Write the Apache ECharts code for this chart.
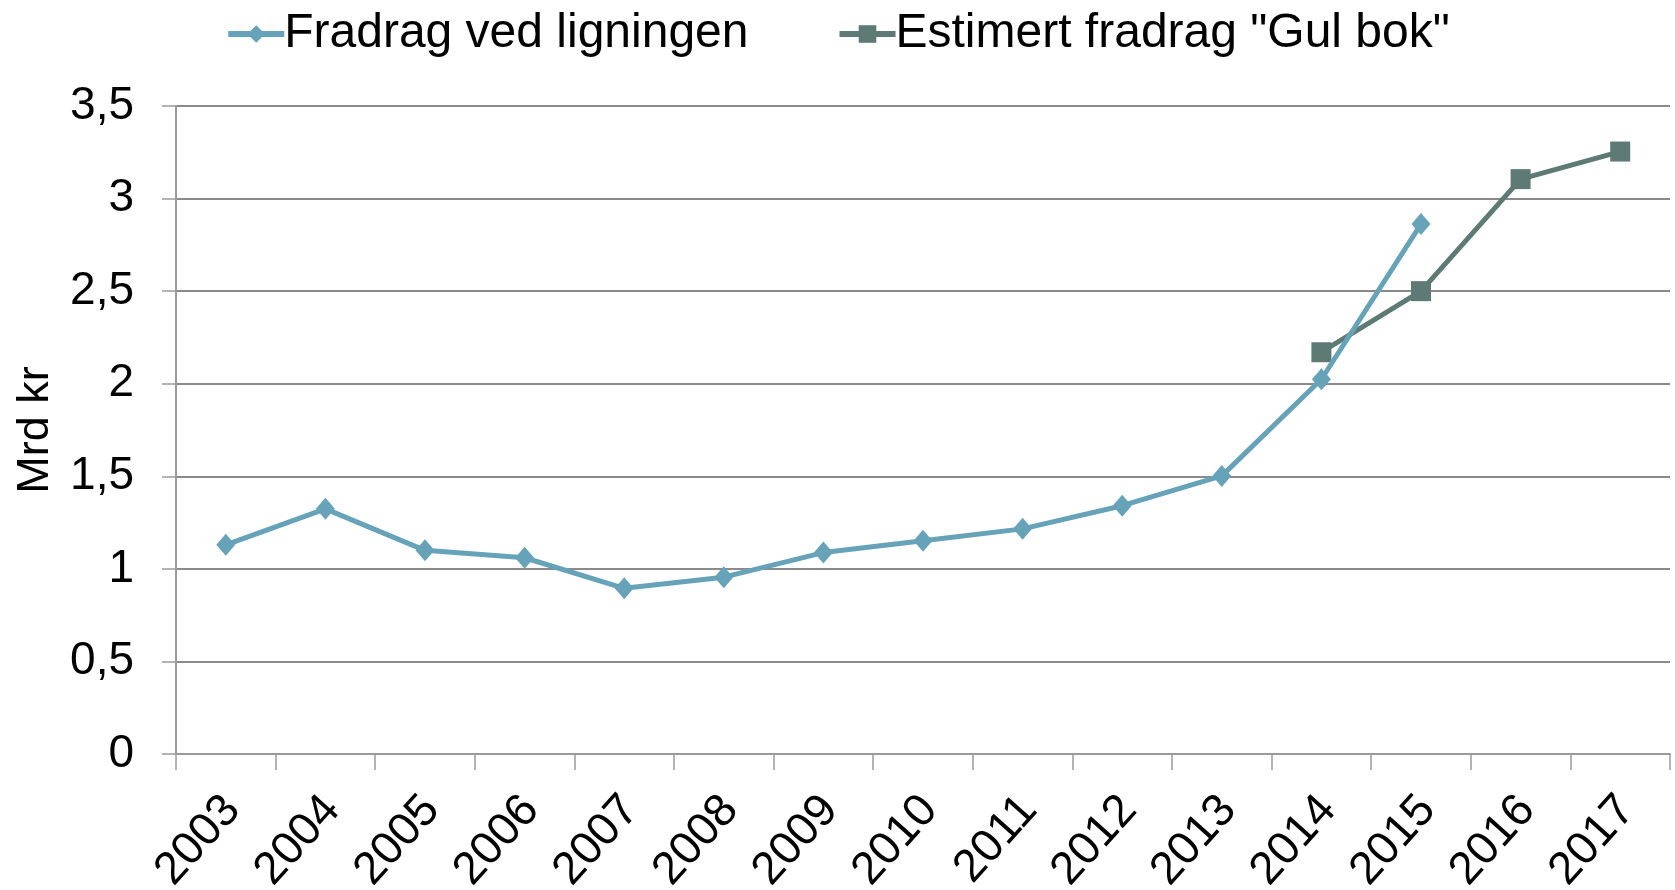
<!DOCTYPE html>
<html>
<head>
<meta charset="utf-8">
<script src="https://cdn.jsdelivr.net/npm/echarts@6/dist/echarts.min.js"></script>
<style>
html,body{margin:0;padding:0;background:#fff;}
#chart{width:1675px;height:890px;}
</style>
</head>
<body>
<div id="chart"></div>
<script>
const categories = ['2003','2004','2005','2006','2007','2008','2009','2010','2011','2012','2013','2014','2015','2016','2017'];
const fradragVedLigningen = [1.13,1.324,1.10,1.06,0.895,0.955,1.088,1.152,1.216,1.341,1.502,2.024,2.862,null,null];
const estimertFradrag = [null,null,null,null,null,null,null,null,null,null,null,2.17,2.50,3.105,3.254];
const seriesNames = ['Fradrag ved ligningen','Estimert fradrag "Gul bok"'];
const yTicks = [0,0.5,1,1.5,2,2.5,3,3.5];

const font = '"Liberation Sans", Arial, sans-serif';
const chart = echarts.init(document.getElementById('chart'), null, {renderer:'canvas'});
chart.setOption({
  animation:false,
  backgroundColor:'#ffffff',
  textStyle:{fontFamily:font,color:'#000'},
  legend:{
    top:5,
    left:'center',
    itemWidth:56,
    itemHeight:22,
    itemGap:88,
    lineStyle:{width:6},
    textStyle:{fontSize:48,color:'#000',fontFamily:font,padding:[0,0,0,-5]},
    data:seriesNames
  },
  grid:{left:176,right:5,top:106,bottom:136,containLabel:false,outerBoundsMode:'none'},
  xAxis:{
    type:'category',
    data:categories,
    boundaryGap:true,
    axisLine:{lineStyle:{color:'#9a9a9a',width:2}},
    axisTick:{show:true,length:16,lineStyle:{color:'#9a9a9a',width:1.5}},
    axisLabel:{rotate:48,margin:56,fontSize:46,color:'#000',fontFamily:font,interval:0,padding:[0,-10,0,0]}
  },
  yAxis:{
    type:'value',
    min:0,max:3.5,interval:0.5,
    name:'Mrd kr',
    nameLocation:'middle',
    nameRotate:90,
    nameGap:118,
    nameTextStyle:{fontSize:45,color:'#000',fontFamily:font},
    axisLine:{show:true,lineStyle:{color:'#9a9a9a',width:2}},
    axisTick:{show:true,length:14,lineStyle:{color:'#9a9a9a',width:1.5}},
    axisLabel:{margin:42,fontSize:46,color:'#000',fontFamily:font,
      formatter:function(v){return yTicks.indexOf(v)>=0 ? String(v).replace('.',',') : '';}},
    splitLine:{show:true,lineStyle:{color:'#8a8a8a',width:2}}
  },
  series:[
    {
      name:seriesNames[0],
      type:'line',
      data:fradragVedLigningen,
      connectNulls:false,
      symbol:'diamond',
      symbolSize:[19,22],
      itemStyle:{color:'#67A3B8'},
      lineStyle:{color:'#67A3B8',width:5},
      z:3
    },
    {
      name:seriesNames[1],
      type:'line',
      data:estimertFradrag,
      symbol:'rect',
      symbolSize:20,
      itemStyle:{color:'#5D7A74'},
      lineStyle:{color:'#5D7A74',width:5},
      z:2
    }
  ]
});
</script>
</body>
</html>
